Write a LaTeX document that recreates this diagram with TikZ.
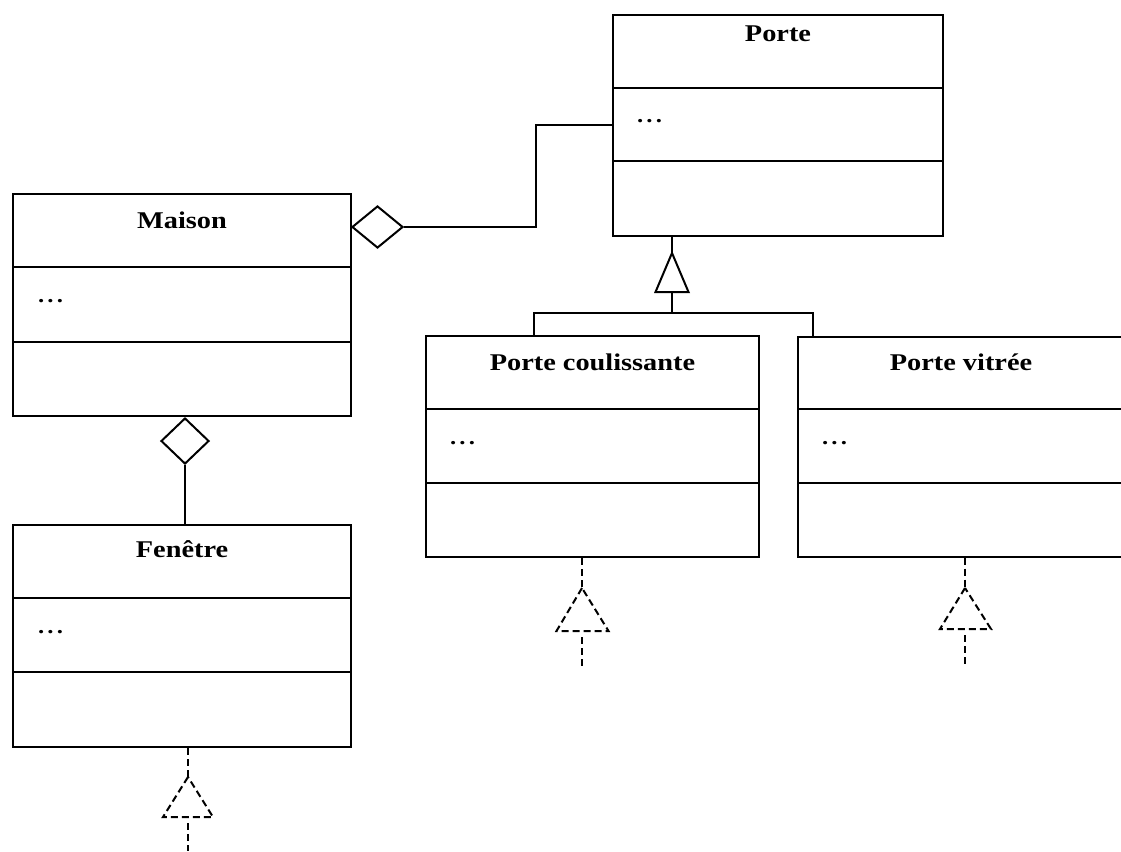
\documentclass[tikz,border=0pt]{standalone}
\usepackage{fontspec}
\setmainfont{Liberation Serif}
\newfontfamily\umlfont[FakeStretch=1.18]{Liberation Serif}
\usetikzlibrary{shapes.geometric}

\newcommand\umldots{\textbf{.\hspace{3.2pt}.\hspace{3.2pt}.}}

\tikzset{
  classbox/.style={draw, rectangle, inner sep=0pt, anchor=north west},
  classname/.style={inner sep=0pt, anchor=base, font=\umlfont\bfseries\fontsize{24}{28}\selectfont},
  members/.style={inner sep=0pt, anchor=base west, font=\umlfont\fontsize{21}{25}\selectfont},
  aggr/.style={draw, diamond, inner sep=0pt, fill=white},
  realize/.style={dash pattern=on 7pt off 4pt},
}

\begin{document}
\begin{tikzpicture}[x=1pt, y=-1pt, line width=2pt, line join=miter]
\useasboundingbox (0,0) rectangle (1121,851);

% class boxes
\node[classbox, minimum width=330pt, minimum height=221pt] (porte)   at (612,14)    {};
\node[classbox, minimum width=338pt, minimum height=222pt] (maison)  at (12,193)    {};
\node[classbox, minimum width=338pt, minimum height=222pt] (fenetre) at (12,524)    {};
\node[classbox, minimum width=333pt, minimum height=221pt] (coul)    at (425,335)   {};
\node[classbox, minimum width=326pt, minimum height=220pt] (vitree)  at (797,335.5) {};

% compartment separators
\foreach \b/\ya/\yb in {porte/88/161, maison/267/342, fenetre/598/672, coul/409/483, vitree/409/483} {
  \draw (\b.west |- 0,\ya) -- (\b.east |- 0,\ya);
  \draw (\b.west |- 0,\yb) -- (\b.east |- 0,\yb);
}

% class names
\node[classname] (porte-name)   at (porte.north |- 0,42)   {Porte};
\node[classname] (maison-name)  at (maison.north |- 0,228) {Maison};
\node[classname] (fenetre-name) at (fenetre.north |- 0,557) {Fenêtre};
\node[classname] (coul-name)    at (coul.north |- 0,370)   {Porte coulissante};
\node[classname] (vitree-name)  at (vitree.north |- 0,370) {Porte vitrée};

% attributes
\node[members] (porte-attr)   at (636,122) {\umldots};
\node[members] (maison-attr)  at (37,302)  {\umldots};
\node[members] (fenetre-attr) at (37,633)  {\umldots};
\node[members] (coul-attr)    at (449,444) {\umldots};
\node[members] (vitree-attr)  at (821,444) {\umldots};

% aggregation Maison -- Porte
\node[aggr, minimum width=51pt, minimum height=42pt] (agg1) at (377.5,227) {};
\coordinate (bend) at (536,227);
\draw (porte.west |- 0,125) -| (bend) -- (agg1.east);

% aggregation Maison -- Fenetre
\node[aggr, minimum width=48pt, minimum height=46pt] (agg2) at (185,441) {};
\draw (agg2.south) -- (agg2.south |- fenetre.north);

% generalization Porte <- subclasses
\coordinate (gtip)  at (672,253);
\coordinate (gbase) at (672,292);
\coordinate (gjoin) at (672,313);
\draw (porte.south -| gtip) -- (gtip);
\draw (gtip) -- (655.5,292) -- (688.5,292) -- cycle;
\draw (gbase) -- (gjoin);
\draw (coul.north -| 534,0) -- (534,313) -- (813,313) -- (vitree.north -| 813,0);

% realizations below the classes
\draw[realize] (coul.south -| 582,0) -- (582,588);
\draw[realize] (582,588) -- (556.5,631) -- (608.5,631) -- cycle;
\draw[realize] (582,637) -- (582,668);

\draw[realize] (vitree.south -| 965,0) -- (965,588);
\draw[realize] (965,588) -- (940,629) -- (991,629) -- cycle;
\draw[realize] (965,635) -- (965,666);

\draw[realize] (fenetre.south -| 188,0) -- (188,777);
\draw[realize] (188,777) -- (163,817) -- (213,817) -- cycle;
\draw[realize] (188,823) -- (188,851);
\end{tikzpicture}
\end{document}
